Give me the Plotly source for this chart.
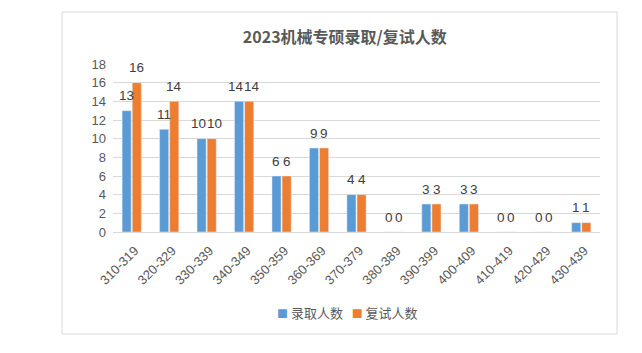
import plotly.graph_objects as go

categories = ["310-319", "320-329", "330-339", "340-349", "350-359", "360-369", "370-379",
              "380-389", "390-399", "400-409", "410-419", "420-429", "430-439"]
admitted = [13, 11, 10, 14, 6, 9, 4, 0, 3, 3, 0, 0, 1]
retest = [16, 14, 10, 14, 6, 9, 4, 0, 3, 3, 0, 0, 1]
y_ticks = [0, 2, 4, 6, 8, 10, 12, 14, 16, 18]
series_names = ["录取人数", "复试人数"]
series_colors = ["#5b9bd5", "#ed7d31"]

label_font = dict(size=13.5, color="#404040", family="Liberation Sans, sans-serif")

fig = go.Figure()
for name, vals, col in zip(series_names, [admitted, retest], series_colors):
    fig.add_trace(go.Bar(x=categories, y=vals, name=name, marker_color=col,
                         showlegend=False, cliponaxis=False))

# value labels placed above each bar (offset left/right for the grouped bars)
annotations = []
for s, vals in enumerate([admitted, retest]):
    side = -1 if s == 0 else 1
    other = retest if s == 0 else admitted
    for cat, v, ov in zip(categories, vals, other):
        nudge = 2.7 * side if (v == ov and v >= 10) else 0
        annotations.append(dict(x=cat, y=v, xref="x", yref="y", text=str(v),
                                showarrow=False, xshift=5.1 * side + nudge, yshift=15,
                                font=label_font))

# legend drawn as text with coloured squares
legend_text = (f"<span style='color:{series_colors[0]};font-size:11px'>■</span> {series_names[0]}"
               f"   <span style='color:{series_colors[1]};font-size:11px'>■</span> {series_names[1]}")
annotations.append(dict(x=0.481, y=-0.482, xref="paper", yref="paper", text=legend_text,
                        showarrow=False, xanchor="center", yanchor="middle",
                        font=dict(size=13, color="#595959")))

fig.update_layout(
    width=642, height=353,
    margin=dict(l=113, r=42, t=64, b=121),
    paper_bgcolor="white", plot_bgcolor="white",
    barmode="group", bargap=0.46, bargroupgap=0.1,
    font=dict(family="Noto Sans CJK SC, Liberation Sans, sans-serif", color="#595959"),
    title=dict(text="<b>2023机械专硕录取/复试人数</b>", x=0.476, xref="paper", xanchor="center",
               y=0.895, yanchor="middle", font=dict(size=16, color="#595959")),
    annotations=annotations,
    shapes=[dict(type="rect", xref="paper", yref="paper", x0=-0.1047, x1=1.035,
                 y0=-0.607, y1=1.3095, line=dict(color="#d9d9d9", width=1))],
)
fig.update_yaxes(range=[0, 18], tickvals=y_ticks, showgrid=True, gridcolor="#d9d9d9",
                 zeroline=False, showline=False, ticklabelstandoff=6,
                 tickfont=dict(size=13, family="Liberation Sans, sans-serif"))
fig.update_xaxes(tickangle=-45, showline=True, linecolor="#d9d9d9",
                 ticklabelstandoff=5, ticklabelshift=3,
                 tickfont=dict(size=13, family="Liberation Sans, sans-serif"))

fig.write_html("out.html")
